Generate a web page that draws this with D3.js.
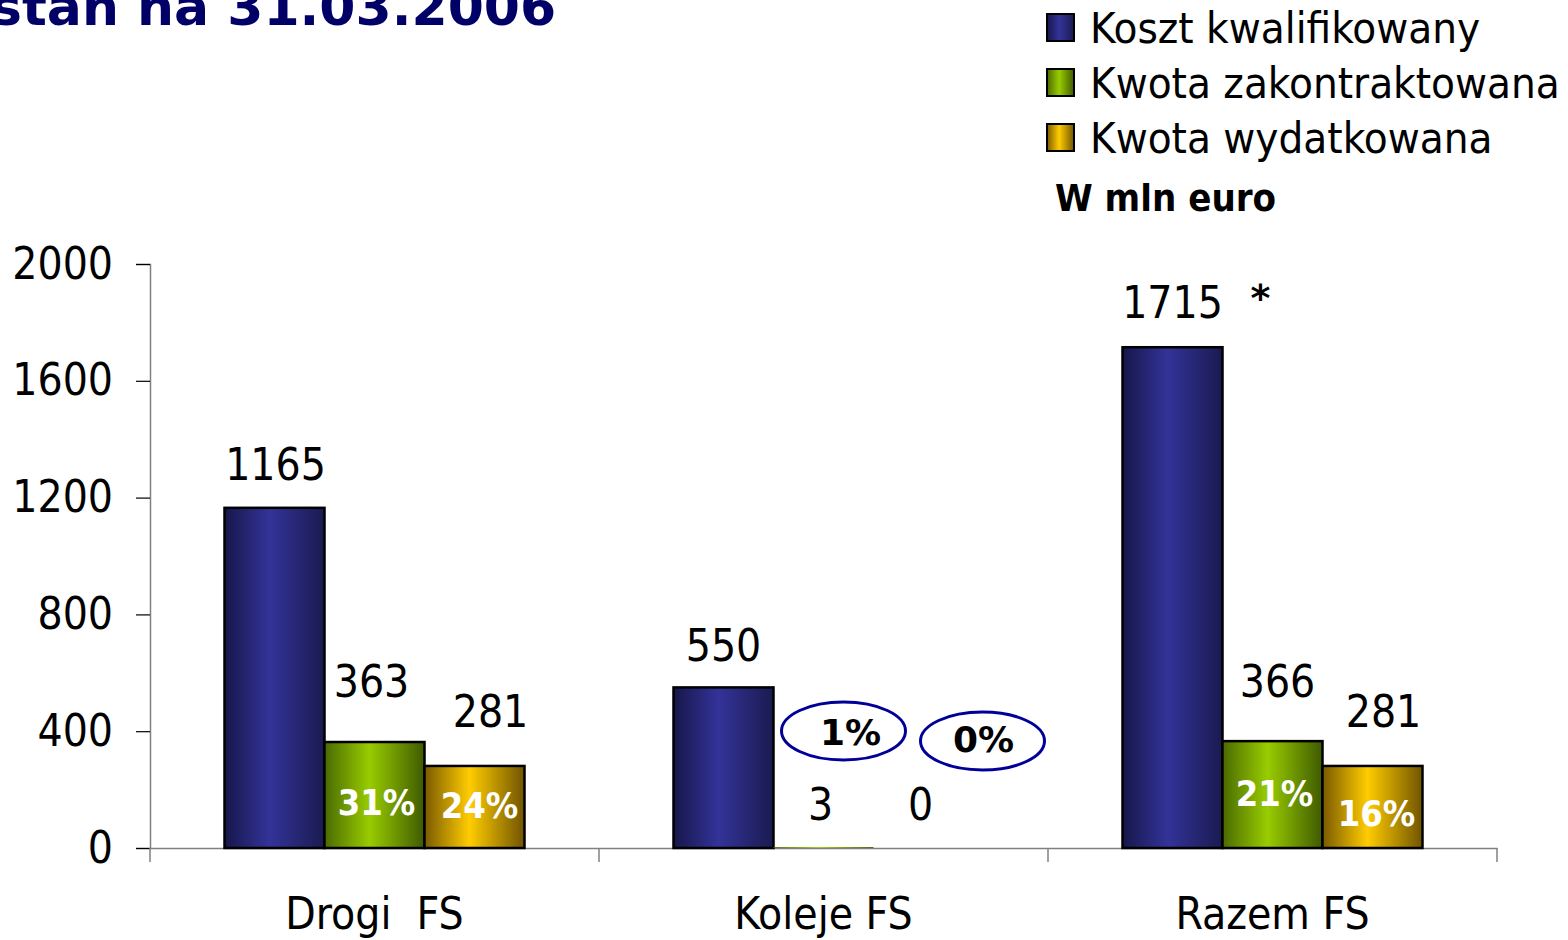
<!DOCTYPE html>
<html>
<head>
<meta charset="utf-8">
<script src="https://cdn.jsdelivr.net/npm/d3@7"></script>
<style>
  html, body { margin: 0; padding: 0; background: #ffffff; overflow: hidden; }
  svg { display: block; }
  .reg { font-family: "DejaVu Sans Condensed", "DejaVu Sans", sans-serif; font-stretch: condensed; }
  .bold { font-family: "DejaVu Sans", sans-serif; font-weight: bold; }
  .boldc { font-family: "DejaVu Sans Condensed", "DejaVu Sans", sans-serif; font-stretch: condensed; font-weight: bold; }
</style>
</head>
<body>
<svg id="chart" width="1568" height="940"></svg>
<script>
// ---- data ----
const categories = ["Drogi  FS", "Koleje FS", "Razem FS"];
const series = ["Koszt kwalifikowany", "Kwota zakontraktowana", "Kwota wydatkowana"];
const kosztKwalifikowany = [1165, 550, 1715];
const kwotaZakontraktowana = [363, 3, 366];
const kwotaWydatkowana = [281, 0, 281];
const udzialZakontraktowana = ["31%", "1%", "21%"];
const udzialWydatkowana = ["24%", "0%", "16%"];
const yTicks = [0, 400, 800, 1200, 1600, 2000];
const titleText = "stan na 31.03.2006";
const unitText = "W mln euro";

// ---- layout / style (not data) ----
const seriesColors = [
  { edge: "#16164a", mid: "#333399", edge2: "#1a1a50" },
  { edge: "#4a6a00", mid: "#99cc00", edge2: "#3f5a00" },
  { edge: "#7a5a00", mid: "#ffcc00", edge2: "#705400" }
];
// value label nudges [dx, dy] relative to bar centre / bar top, per series per category
const valueNudge = [
  [[1, -28], [0, -26], [0, -29]],
  [[-3, -45], [-3, -27], [5, -44]],
  [[16, -39], [-3, -28], [11, -39]]
];
// percent label nudges [dx, dy] relative to bar centre / baseline
const pctNudge = [
  [[2, -33], [27, -103], [2, -42]],
  [[5, -30], [60, -96], [4, -22]]
];
const circled = [false, true, false];

const svg = d3.select("#chart");
const margin = { left: 150, right: 71, top: 264, bottom: 92 };
const W = 1568, H = 940;

const x0 = d3.scaleBand().domain(categories).range([margin.left, W - margin.right]).paddingInner(0).paddingOuter(0);
const x1 = d3.scaleBand().domain(series).range([0, x0.bandwidth()]).paddingInner(0).paddingOuter(0.745);
const y = d3.scaleLinear().domain([0, 2000]).range([848, 264]);

const values = [kosztKwalifikowany, kwotaZakontraktowana, kwotaWydatkowana];

// gradients
const defs = svg.append("defs");
seriesColors.forEach((c, i) => {
  const g = defs.append("linearGradient").attr("id", "grad" + i)
    .attr("x1", "0%").attr("x2", "100%").attr("y1", "0%").attr("y2", "0%");
  g.append("stop").attr("offset", "0%").attr("stop-color", c.edge);
  g.append("stop").attr("offset", "45%").attr("stop-color", c.mid);
  g.append("stop").attr("offset", "100%").attr("stop-color", c.edge2);
});

// title (cut at the top-left edge, as in the original slide)
svg.append("text").attr("class", "bold")
  .attr("x", -9).attr("y", 25)
  .attr("font-size", 52).attr("fill", "#000066")
  .text(titleText);

// y axis
const yAxis = d3.axisLeft(y).tickValues(yTicks).tickSize(14).tickPadding(23).tickFormat(d3.format("d"));
const gy = svg.append("g").attr("transform", `translate(${margin.left},0)`).call(yAxis);
gy.select(".domain").attr("stroke", "#808080").attr("stroke-width", 1.5);
gy.selectAll(".tick line").attr("stroke", "#000").attr("stroke-width", 1.2);
gy.selectAll(".tick text").attr("class", "reg").attr("font-size", 44).attr("fill", "#000");

// x axis: line + boundary ticks
const xAxis = d3.axisBottom(x0).tickSize(0).tickPadding(50);
const gx = svg.append("g").attr("transform", `translate(0,${y(0)})`).call(xAxis);
gx.select(".domain").attr("stroke", "#808080").attr("stroke-width", 1.5);
gx.selectAll(".tick text").attr("class", "reg").attr("font-size", 44).attr("fill", "#000")
  .attr("dy", "0.71em").style("white-space", "pre").attr("xml:space", "preserve");
const bounds = categories.map(c => x0(c)).concat([x0(categories[categories.length - 1]) + x0.bandwidth()]);
gx.selectAll("line.bnd").data(bounds).enter().append("line").attr("class", "bnd")
  .attr("x1", d => d).attr("x2", d => d).attr("y1", 0).attr("y2", 14)
  .attr("stroke", "#808080").attr("stroke-width", 1.5);

// bars
const groups = svg.selectAll("g.cat").data(categories).enter().append("g")
  .attr("class", "cat").attr("transform", c => `translate(${x0(c)},0)`);

series.forEach((s, si) => {
  groups.append("rect")
    .attr("x", x1(s))
    .attr("y", (c, ci) => y(values[si][ci]))
    .attr("width", x1.bandwidth())
    .attr("height", (c, ci) => y(0) - y(values[si][ci]))
    .attr("fill", `url(#grad${si})`)
    .attr("stroke", (c, ci) => values[si][ci] > 5 ? "#000" : "none")
    .attr("stroke-width", 2.5);
});

// value labels
series.forEach((s, si) => {
  groups.append("text").attr("class", "reg")
    .attr("x", (c, ci) => x1(s) + x1.bandwidth() / 2 + valueNudge[si][ci][0])
    .attr("y", (c, ci) => y(values[si][ci]) + valueNudge[si][ci][1])
    .attr("text-anchor", "middle").attr("font-size", 44).attr("fill", "#000")
    .text((c, ci) => values[si][ci]);
});

// asterisk on total
svg.append("text").attr("class", "bold")
  .attr("x", x0(categories[2]) + x1(series[0]) + x1.bandwidth() / 2 + 88)
  .attr("y", y(kosztKwalifikowany[2]) - 36)
  .attr("text-anchor", "middle").attr("font-size", 38).attr("fill", "#000").text("*");

// percent labels
[udzialZakontraktowana, udzialWydatkowana].forEach((arr, pi) => {
  const s = series[pi + 1];
  groups.each(function (c, ci) {
    const g = d3.select(this);
    const cx = x1(s) + x1.bandwidth() / 2 + pctNudge[pi][ci][0];
    const by = y(0) + pctNudge[pi][ci][1];
    if (circled[ci]) {
      g.append("ellipse")
        .attr("cx", cx - 7 + pi * 6).attr("cy", by - 14 + pi * 3)
        .attr("rx", 62).attr("ry", 29)
        .attr("fill", "none").attr("stroke", "#000099").attr("stroke-width", 3);
      g.append("text").attr("class", "bold")
        .attr("x", cx).attr("y", by)
        .attr("text-anchor", "middle").attr("font-size", 36).attr("fill", "#000")
        .text(arr[ci]);
    } else {
      g.append("text").attr("class", "boldc")
        .attr("x", cx).attr("y", by)
        .attr("text-anchor", "middle").attr("font-size", 36).attr("fill", "#fff")
        .text(arr[ci]);
    }
  });
});

// legend
const legend = svg.append("g").attr("transform", "translate(1047,14)");
series.forEach((s, i) => {
  const row = legend.append("g").attr("transform", `translate(0,${i * 55})`);
  row.append("rect").attr("x", 0).attr("y", 0).attr("width", 27).attr("height", 27)
    .attr("fill", `url(#grad${i})`).attr("stroke", "#000").attr("stroke-width", 2);
  row.append("text").attr("class", "reg").attr("x", 43).attr("y", 29)
    .attr("font-size", 43.5).attr("fill", "#000").text(s);
});
svg.append("text").attr("class", "boldc").attr("x", 1055).attr("y", 211)
  .attr("font-size", 38).attr("fill", "#000").text(unitText);
</script>
</body>
</html>
